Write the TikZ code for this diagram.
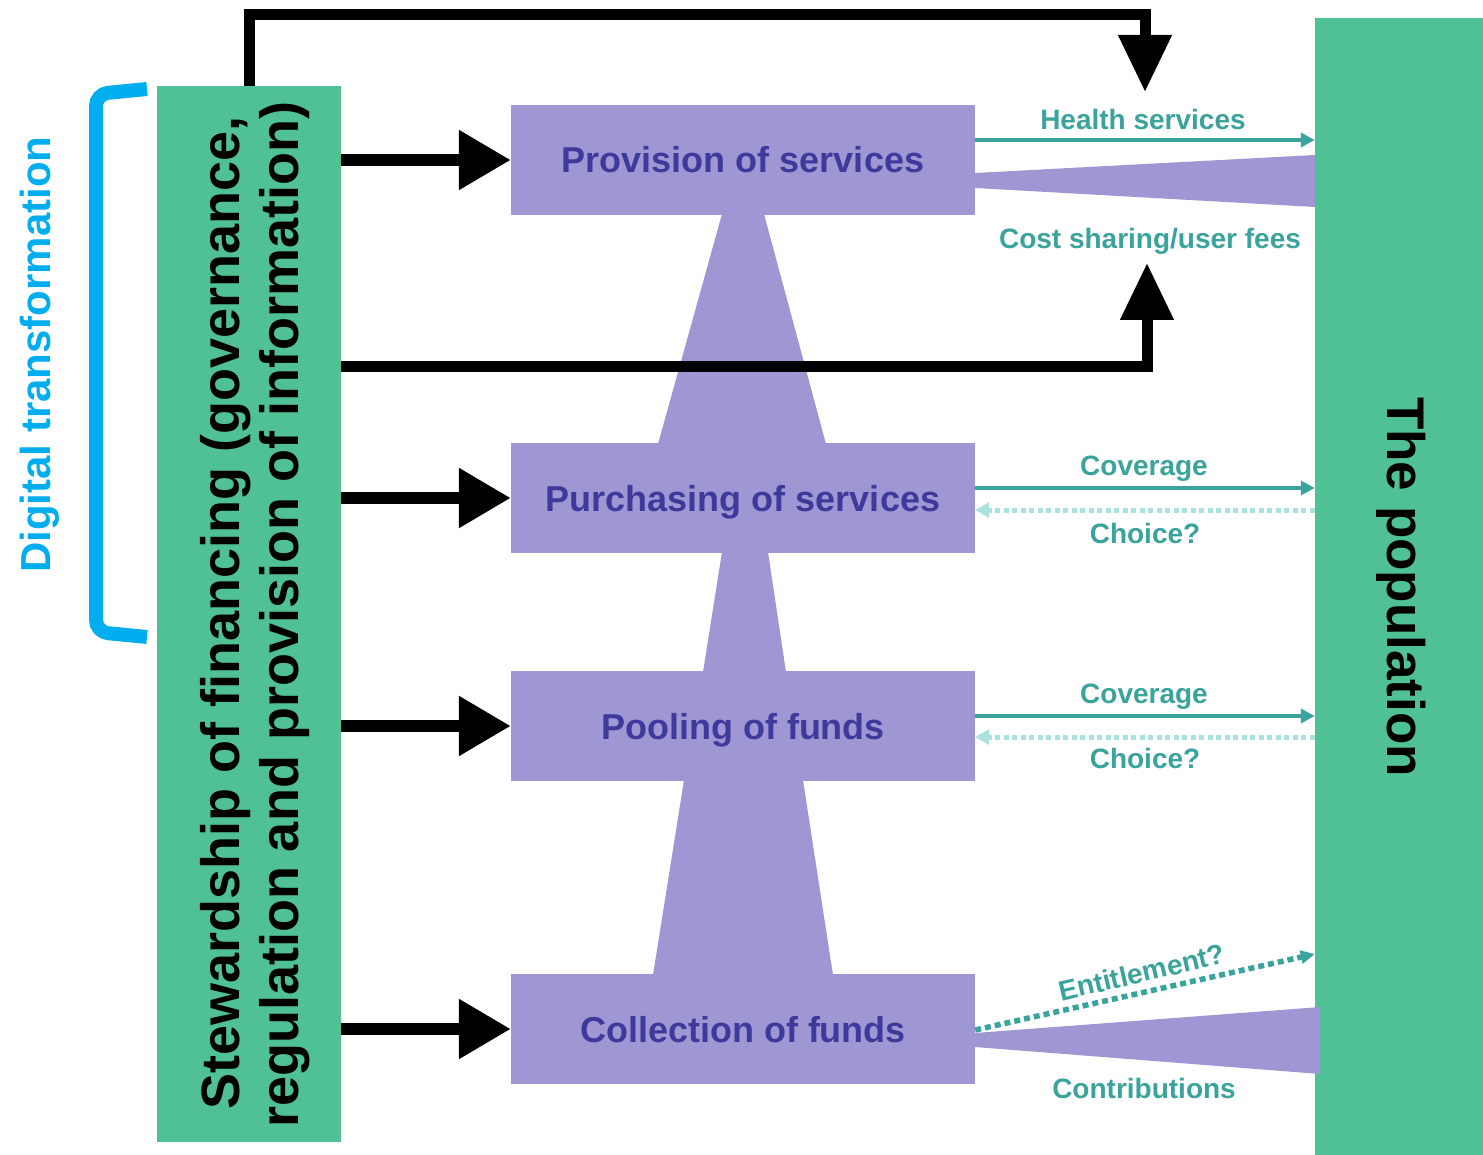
\documentclass[tikz,border=0pt]{standalone}
\usepackage{fontspec}
\setmainfont{Liberation Sans}
\usetikzlibrary{arrows.meta}
\definecolor{grn}{RGB}{79,193,148}
\definecolor{prp}{RGB}{159,151,211}
\definecolor{prptext}{RGB}{62,58,156}
\definecolor{tl}{RGB}{58,163,155}
\definecolor{ltl}{RGB}{170,227,221}
\definecolor{blu}{RGB}{0,174,239}
\begin{document}
\begin{tikzpicture}[x=1pt,y=-1pt,
  greenbox/.style={fill=grn, draw=none, inner sep=0pt},
  pbox/.style={fill=prp, draw=none, inner sep=0pt, minimum width=464pt, minimum height=110pt,
    font=\fontsize{36}{40}\selectfont\bfseries, text=prptext, text height=26pt, text depth=0pt},
  bigarrow/.style={line width=12pt, -{Triangle[length=52pt,width=57pt]}},
  vertarrow/.style={line width=11pt, -{Triangle[length=57pt,width=51pt]}},
  tealarrow/.style={tl, line width=4.5pt, -{Triangle[length=14pt,width=14pt]}},
  choicearrow/.style={ltl, line width=5pt, dash pattern=on 5pt off 3.5pt, -{Triangle[length=14pt,width=15pt]}},
  entarrow/.style={tl, line width=5.5pt, dash pattern=on 6pt off 4pt, -{Triangle[length=14pt,width=13pt]}},
  lbl/.style={font=\fontsize{28}{32}\selectfont\bfseries, text=tl, inner sep=0pt, anchor=base},
  bigtext/.style={font=\fontsize{54}{58}\selectfont\bfseries, text=black, inner sep=0pt, anchor=base}
]
\useasboundingbox (0,0) rectangle (1483,1155);

% green boxes
\node[greenbox, minimum width=184pt, minimum height=1056pt] (stew) at (249,614) {};
\node[greenbox, minimum width=168pt, minimum height=1137pt] (pop) at (1399,586.5) {};

% trapezoids
\fill[prp] (722,214) -- (764,214) -- (826,444) -- (658,444) -- cycle;
\fill[prp] (722,552) -- (768,552) -- (786,672) -- (703,672) -- cycle;
\fill[prp] (684,780) -- (803,780) -- (833,975) -- (653,975) -- cycle;

% purple boxes
\node[pbox] (prov) at (743,160) {Provision of services};
\node[pbox] (purch) at (743,498) {Purchasing of services};
\node[pbox] (pool) at (743,726) {Pooling of funds};
\node[pbox] (coll) at (743,1029) {Collection of funds};

% wedges
\fill[prp] (975,173) -- (1315,155) -- (1315,207) -- (975,188) -- cycle;
\fill[prp] (975,1033) -- (1320,1007) -- (1320,1074) -- (975,1047) -- cycle;

% black arrows from stewardship
\draw[bigarrow] (stew.east |- prov.west) -- (prov.west);
\draw[bigarrow] (stew.east |- purch.west) -- (purch.west);
\draw[bigarrow] (stew.east |- pool.west) -- (pool.west);
\draw[bigarrow] (stew.east |- coll.west) -- (coll.west);

\coordinate (toptip) at (1145,92);
\coordinate (topcorner) at (1145,14.5);
\draw[vertarrow] (stew.north) |- (topcorner) -- (toptip);

\coordinate (costtip) at (1147,263);
\coordinate (costcorner) at (1147,367);
\draw[vertarrow] (stew.east |- costcorner) -- (costcorner) -- (costtip);

% teal flows
\draw[tealarrow] ([yshift=20pt]prov.east) -- ([yshift=20pt]prov.east -| pop.west);
\draw[tealarrow] ([yshift=10pt]purch.east) -- ([yshift=10pt]purch.east -| pop.west);
\draw[choicearrow] ([yshift=-12pt]purch.east -| pop.west) -- ([yshift=-12pt]purch.east);
\draw[tealarrow] ([yshift=10pt]pool.east) -- ([yshift=10pt]pool.east -| pop.west);
\draw[choicearrow] ([yshift=-11pt]pool.east -| pop.west) -- ([yshift=-11pt]pool.east);
\draw[entarrow] ([yshift=-1pt]coll.east) -- ([yshift=75pt]coll.east -| pop.west);

% labels
\node[lbl] (lhs) at (1143,130) {Health services};
\node[lbl] (lcs) at (1150,249) {Cost sharing/user fees};
\node[lbl] (lcov1) at (1144,475) {Coverage};
\node[lbl] (lch1) at (1145,543) {Choice?};
\node[lbl] (lcov2) at (1144,703) {Coverage};
\node[lbl] (lch2) at (1145,768) {Choice?};
\node[lbl] (lcon) at (1144,1098) {Contributions};
\node[lbl, rotate=13] (lent) at (1144,982) {Entitlement?};

% bracket
\draw[blu, line width=14pt, rounded corners=12pt] (147,89) -- (96,94) -- (96,632) -- (147,637);
\node[font=\fontsize{42}{46}\selectfont\bfseries, text=blu, inner sep=0pt, anchor=base, rotate=90] (dig) at (50,354.5) {Digital transformation};

% big texts
\node[bigtext, rotate=90] (st1) at (239,613) {Stewardship of financing (governance,};
\node[bigtext, rotate=90] (st2) at (298,615) {regulation and provision of information)};
\node[font=\fontsize{53}{57}\selectfont\bfseries, text=black, inner sep=0pt, anchor=base, rotate=-90] (poptxt) at (1387,587) {The population};
\end{tikzpicture}
\end{document}
